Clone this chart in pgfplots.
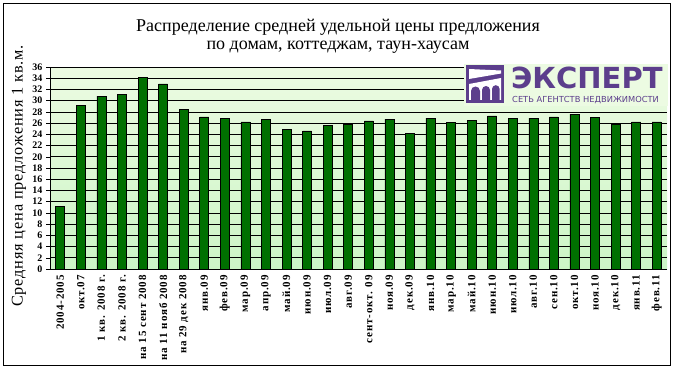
\documentclass[border=0pt]{standalone}
\usepackage{pgfplots}
\pgfplotsset{compat=1.18}
\usepackage{fontspec}
\setmainfont{Liberation Serif}
\newfontfamily\tickfont[LetterSpace=8]{Liberation Serif}
\newfontfamily\ylabfont[LetterSpace=5]{Liberation Serif}
\newfontfamily\logofont{DejaVu Sans}
\definecolor{bargreen}{RGB}{0,112,0}
\definecolor{bgtop}{RGB}{236,251,226}
\definecolor{bgbot}{RGB}{204,245,198}
\definecolor{logopurple}{RGB}{92,62,140}
\begin{document}
\begin{tikzpicture}[x=1pt,y=1pt]
\useasboundingbox (0,0) rectangle (674,370);
\draw[line width=1pt] (3,5) rectangle (670,366);
\node[font=\fontsize{18}{20}\selectfont] at (338,343) {Распределение средней удельной цены предложения};
\node[font=\fontsize{18}{20}\selectfont] at (338,323) {по домам, коттеджам, таун-хаусам};
\node[rotate=90,font=\ylabfont\fontsize{16.3}{18}\selectfont] at (19,194) {Средняя цена предложения 1 кв.м.};
\begin{axis}[
  at={(50pt,101pt)}, anchor=south west, scale only axis,
  width=617pt, height=202pt,
  ymin=0, ymax=36, ytick={0,2,...,36},
  xmin=-0.5, xmax=29.5,
  xtick={0,...,29},
  xticklabels={2004-2005, окт.07, 1 кв. 2008 г., 2 кв. 2008 г., на 15 сент 2008, на 11 нояб 2008, на 29 дек 2008, янв.09, фев.09, мар.09, апр.09, май.09, июн.09, июл.09, авг.09, сент-окт. 09, ноя.09, дек.09, янв.10, мар.10, май.10, июн.10, июл.10, авг.10, сен.10, окт.10, ноя.10, дек.10, янв.11, фев.11},
  extra x ticks={-0.5,0.5,...,29.5},
  extra x tick labels={},
  extra x tick style={major tick length=4pt, tick style={black,thin}, grid=none},
  major x tick style={draw=none},
  x tick label style={rotate=90, anchor=east, inner xsep=2pt, font=\tickfont\fontsize{11}{12}\selectfont\bfseries},
  y tick label style={font=\fontsize{10}{11}\selectfont\bfseries},
  tick align=outside,
  ytick style={black, thin},
  major tick length=4pt,
  ymajorgrids, grid style={black, line width=0.6pt},
  axis lines*=left,
  axis line style={black, line width=0.8pt},
  axis background/.style={top color=bgtop, bottom color=bgbot},
  ybar, bar width=9pt,
  /pgf/number format/assume math mode=true,
  clip=false,
]
\addplot[fill=bargreen, draw=black, line width=0.6pt] coordinates {
(0,11.2) (1,29.2) (2,30.8) (3,31.1) (4,34.2) (5,33.0) (6,28.5) (7,27.1) (8,26.9) (9,26.2)
(10,26.7) (11,24.9) (12,24.6) (13,25.6) (14,25.7) (15,26.4) (16,26.7) (17,24.2) (18,26.9) (19,26.1)
(20,26.5) (21,27.3) (22,26.9) (23,26.9) (24,27.1) (25,27.6) (26,27.0) (27,25.7) (28,26.2) (29,26.2)
};
\end{axis}
% logo
\fill[bgtop] (464,264) rectangle (668,306);
\fill[logopurple] (466,267) rectangle (504,305);
\fill[white] (469,301) -- (501,299.5) -- (501,296.5) -- (469,291) -- cycle;
\fill[white] (469,270) -- (469,286) -- (501,292) -- (501,270) -- cycle;
\fill[logopurple] (471,270) -- (471,279) arc (180:0:4.5) -- (480,270) -- cycle;
\fill[logopurple] (482,270) -- (482,280) arc (180:0:4) -- (490,270) -- cycle;
\fill[logopurple] (492,270) -- (492,281) arc (180:0:3.8) -- (499.6,270) -- cycle;
\node[anchor=west, inner sep=0pt, text=logopurple, font=\logofont\bfseries\fontsize{29}{30}\selectfont] at (511,292) {ЭКСПЕРТ};
\node[anchor=west, inner sep=0pt, text=logopurple, font=\logofont\fontsize{8.3}{9}\selectfont] at (512,270) {СЕТЬ АГЕНТСТВ НЕДВИЖИМОСТИ};
\end{tikzpicture}
\end{document}
